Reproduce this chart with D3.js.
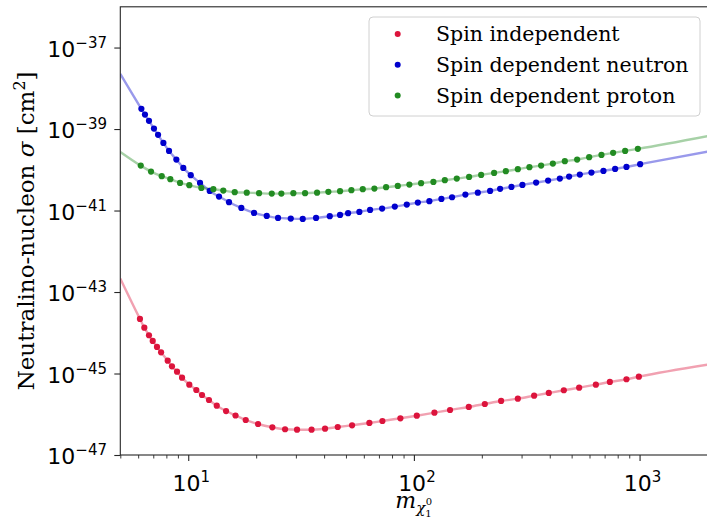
<!DOCTYPE html>
<html>
<head>
<meta charset="utf-8">
<script src="https://cdn.jsdelivr.net/npm/d3@7"></script>
<style>
  html, body { margin: 0; padding: 0; background: #fff; }
  svg { display: block; }
</style>
</head>
<body>
<svg id="chart" width="707" height="518"></svg>
<script>
// Neutralino mass (GeV) and cross sections (cm^2) for each scan point
const massSI = [6.11, 6.39, 6.70, 6.96, 7.27, 7.58, 8.11, 8.47, 8.92, 9.39,
  10.11, 10.86, 11.51, 12.36, 13.38, 14.71, 16.20, 17.98, 20.39, 23.59,
  26.86, 30.35, 35.20, 40.39, 45.98, 53.21, 63.49, 72.51, 87.12, 103.0,
  123.3, 144.6, 175.1, 206.2, 243.5, 288.8, 341.0, 396.1, 461.7, 539.8,
  640.2, 738.5, 874.8, 992.7];
const sigmaSI = [2.18e-44, 1.335e-44, 8.69e-45, 6.30e-45, 4.49e-45, 3.32e-45, 2.07e-45, 1.505e-45, 1.11e-45, 7.91e-46,
  5.32e-46, 3.94e-46, 2.97e-46, 2.24e-46, 1.62e-46, 1.20e-46, 9.33e-47, 7.23e-47, 5.77e-47, 4.79e-47,
  4.28e-47, 4.18e-47, 4.18e-47, 4.42e-47, 4.87e-47, 5.36e-47, 6.11e-47, 6.84e-47, 7.96e-47, 9.22e-47,
  1.093e-46, 1.273e-46, 1.509e-46, 1.787e-46, 2.12e-46, 2.41e-46, 2.86e-46, 3.33e-46, 3.88e-46, 4.49e-46,
  5.32e-46, 6.20e-46, 7.22e-46, 8.36e-46];

const massSDn = [6.20, 6.43, 6.70, 7.05, 7.35, 7.76, 8.22, 8.86, 9.51, 10.26,
  11.28, 12.45, 13.69, 15.16, 17.19, 19.57, 22.28, 25.00, 28.47, 32.17,
  36.85, 42.38, 47.07, 51.09, 57.33, 63.94, 72.29, 82.30, 92.99, 104.1,
  117.1, 132.4, 147.6, 169.1, 192.0, 217.6, 241.0, 270.5, 302.6, 348.0,
  393.3, 443.3, 487.3, 543.6, 612.1, 691.7, 779.3, 874.8, 1006];
const sigmaSDn = [3.13e-39, 2.26e-39, 1.586e-39, 1.026e-39, 7.19e-40, 4.57e-40, 2.91e-40, 1.78e-40, 1.113e-40, 7.36e-41,
  4.77e-41, 3.03e-41, 2.20e-41, 1.60e-41, 1.16e-41, 8.74e-42, 7.38e-42, 6.59e-42, 6.33e-42, 6.23e-42,
  6.59e-42, 7.25e-42, 7.81e-42, 8.59e-42, 9.25e-42, 1.036e-41, 1.115e-41, 1.248e-41, 1.398e-41, 1.565e-41,
  1.693e-41, 1.929e-41, 2.12e-41, 2.46e-41, 2.75e-41, 3.03e-41, 3.40e-41, 3.80e-41, 4.26e-41, 4.85e-41,
  5.43e-41, 6.08e-41, 6.81e-41, 7.62e-41, 8.53e-41, 9.39e-41, 1.052e-40, 1.178e-40, 1.372e-40];

const massSDp = [6.16, 6.84, 7.63, 8.33, 9.20, 10.11, 11.43, 12.92, 14.30, 16.07,
  18.17, 20.60, 23.45, 25.86, 29.23, 32.94, 37.23, 41.78, 47.07, 52.84,
  59.35, 66.82, 75.29, 84.84, 95.50, 107.6, 122.0, 137.1, 154.9, 175.6,
  198.6, 226.7, 255.5, 288.8, 325.0, 366.2, 412.8, 466.5, 528.9, 597.9,
  677.8, 763.5, 863.1, 982.7];
const sigmaSDp = [1.267e-40, 9.03e-41, 6.96e-41, 5.87e-41, 4.77e-41, 4.18e-41, 3.59e-41, 3.34e-41, 3.08e-41, 2.82e-41,
  2.75e-41, 2.66e-41, 2.60e-41, 2.60e-41, 2.66e-41, 2.66e-41, 2.75e-41, 2.87e-41, 2.98e-41, 3.15e-41,
  3.34e-41, 3.45e-41, 3.74e-41, 4.02e-41, 4.33e-41, 4.69e-41, 5.04e-41, 5.55e-41, 6.08e-41, 6.69e-41,
  7.49e-41, 8.39e-41, 9.24e-41, 1.034e-40, 1.158e-40, 1.267e-40, 1.419e-40, 1.625e-40, 1.78e-40, 2.04e-40,
  2.32e-40, 2.60e-40, 2.91e-40, 3.26e-40];

// Fitted curves extend to the ends of the mass range
const fitMassEnds = [5, 2000];
const fitSI = [2.13e-43, 1.65e-45];
const fitSDn = [2.26e-38, 2.80e-40];
const fitSDp = [2.75e-40, 6.68e-40];

const seriesNames = ["Spin independent", "Spin dependent neutron", "Spin dependent proton"];
const seriesColors = ["#DC143C", "#0000CD", "#228B22"];

const xTickValues = [10, 100, 1000];
const xTickExps = ["1", "2", "3"];
const yTickValues = [1e-47, 1e-45, 1e-43, 1e-41, 1e-39, 1e-37];
const yTickExps = ["\u221247", "\u221245", "\u221243", "\u221241", "\u221239", "\u221237"];

const series = [
  { name: seriesNames[0], color: seriesColors[0], mass: massSI, sigma: sigmaSI, fit: fitSI },
  { name: seriesNames[1], color: seriesColors[1], mass: massSDn, sigma: sigmaSDn, fit: fitSDn },
  { name: seriesNames[2], color: seriesColors[2], mass: massSDp, sigma: sigmaSDp, fit: fitSDp }
];

const plot = { left: 120.3, right: 707.5, top: 6.8, bottom: 455 };

const svg = d3.select("#chart");
svg.append("rect").attr("width", 707).attr("height", 518).attr("fill", "#fff");

const x = d3.scaleLog().domain([5, 2000]).range([plot.left, plot.right]);
const y = d3.scaleLog().domain([1e-47, 1e-36]).range([plot.bottom, plot.top]);

svg.append("clipPath").attr("id", "plotclip")
  .append("rect")
  .attr("x", plot.left).attr("y", plot.top)
  .attr("width", plot.right - plot.left).attr("height", plot.bottom - plot.top);

const body = svg.append("g").attr("clip-path", "url(#plotclip)");

const line = d3.line()
  .x(d => x(d[0]))
  .y(d => y(d[1]))
  .curve(d3.curveMonotoneX);

// Pale fit curves
series.forEach(s => {
  const pts = [[fitMassEnds[0], s.fit[0]]]
    .concat(s.mass.map((m, i) => [m, s.sigma[i]]))
    .concat([[fitMassEnds[1], s.fit[1]]]);
  body.append("path")
    .attr("d", line(pts))
    .attr("fill", "none")
    .attr("stroke", s.color)
    .attr("stroke-opacity", 0.4)
    .attr("stroke-width", 2.4);
});

// Scan points
series.forEach(s => {
  body.append("g").selectAll("circle")
    .data(s.mass.map((m, i) => [m, s.sigma[i]]))
    .join("circle")
    .attr("cx", d => x(d[0]))
    .attr("cy", d => y(d[1]))
    .attr("r", 3.1)
    .attr("fill", s.color);
});

// Frame
svg.append("rect")
  .attr("x", plot.left).attr("y", plot.top)
  .attr("width", plot.right - plot.left + 2).attr("height", plot.bottom - plot.top)
  .attr("fill", "none").attr("stroke", "#262626").attr("stroke-width", 1.1);

const axisColor = "#262626";
const tickFont = "DejaVu Sans, sans-serif";

// X axis: major decades plus minor ticks
const gx = svg.append("g").attr("transform", `translate(0,${plot.bottom})`)
  .call(d3.axisBottom(x).tickValues(xTickValues).tickSize(6).tickFormat(""));
gx.select(".domain").remove();
gx.selectAll(".tick line").attr("stroke", axisColor).attr("stroke-width", 1.1);

const minorX = [];
[1, 10, 100, 1000].forEach(dec => {
  for (let k = 2; k <= 9; k++) {
    const v = dec * k;
    if (v >= 5 && v <= 2000) minorX.push(v);
  }
});
const gxm = svg.append("g").attr("transform", `translate(0,${plot.bottom})`)
  .call(d3.axisBottom(x).tickValues(minorX).tickSize(3.5).tickFormat(""));
gxm.select(".domain").remove();
gxm.selectAll(".tick line").attr("stroke", axisColor).attr("stroke-width", 0.9);

xTickValues.forEach((v, i) => {
  const t = svg.append("text")
    .attr("x", x(v) + 3)
    .attr("y", plot.bottom + 36)
    .attr("text-anchor", "middle")
    .attr("font-family", tickFont)
    .attr("font-size", 22)
    .attr("fill", "#000");
  t.append("tspan").text("10");
  t.append("tspan").attr("font-size", 15).attr("dy", -9).text(xTickExps[i]);
});

// Y axis
const gy = svg.append("g").attr("transform", `translate(${plot.left},0)`)
  .call(d3.axisLeft(y).tickValues(yTickValues).tickSize(6).tickFormat(""));
gy.select(".domain").remove();
gy.selectAll(".tick line").attr("stroke", axisColor).attr("stroke-width", 1.1);

yTickValues.forEach((v, i) => {
  const t = svg.append("text")
    .attr("x", 107)
    .attr("y", y(v) + 9)
    .attr("text-anchor", "end")
    .attr("font-family", tickFont)
    .attr("font-size", 22)
    .attr("fill", "#000");
  t.append("tspan").text("10");
  t.append("tspan").attr("font-size", 15).attr("dy", -9).text(yTickExps[i]);
});

// Axis titles
const serif = "DejaVu Serif, serif";
const yTitle = svg.append("text")
  .attr("transform", `translate(34,${(plot.top + plot.bottom) / 2}) rotate(-90)`)
  .attr("text-anchor", "middle")
  .attr("font-family", serif)
  .attr("font-size", 23)
  .attr("fill", "#000");
yTitle.append("tspan").text("Neutralino-nucleon ");
yTitle.append("tspan").attr("font-style", "italic").text("\u03C3");
yTitle.append("tspan").text(" [cm");
yTitle.append("tspan").attr("font-size", 16).attr("dy", -9).text("2");
yTitle.append("tspan").attr("dy", 9).text("]");

const xTitle = svg.append("text")
  .attr("x", (plot.left + 707) / 2)
  .attr("y", 508)
  .attr("text-anchor", "middle")
  .attr("font-family", serif)
  .attr("font-size", 22)
  .attr("fill", "#000");
xTitle.append("tspan").attr("font-style", "italic").text("m");
xTitle.append("tspan").attr("font-style", "italic").attr("font-size", 15).attr("dy", 5).text("\u03C7");
xTitle.append("tspan").attr("font-size", 10).attr("dy", 4).text("1");
xTitle.append("tspan").attr("font-size", 10).attr("dx", -6).attr("dy", -12).text("0");

// Legend
const legend = svg.append("g");
legend.append("rect")
  .attr("x", 369).attr("y", 17).attr("width", 331).attr("height", 99)
  .attr("rx", 4)
  .attr("fill", "#fff").attr("fill-opacity", 0.8)
  .attr("stroke", "#d0d0d0").attr("stroke-width", 1);
series.forEach((s, i) => {
  const cy = 34 + i * 30.8;
  legend.append("circle").attr("cx", 397.7).attr("cy", cy).attr("r", 3).attr("fill", s.color);
  legend.append("text")
    .attr("x", 436).attr("y", cy + 7)
    .attr("font-family", serif)
    .attr("font-size", 20.5)
    .attr("fill", "#000")
    .text(s.name);
});
</script>
</body>
</html>
